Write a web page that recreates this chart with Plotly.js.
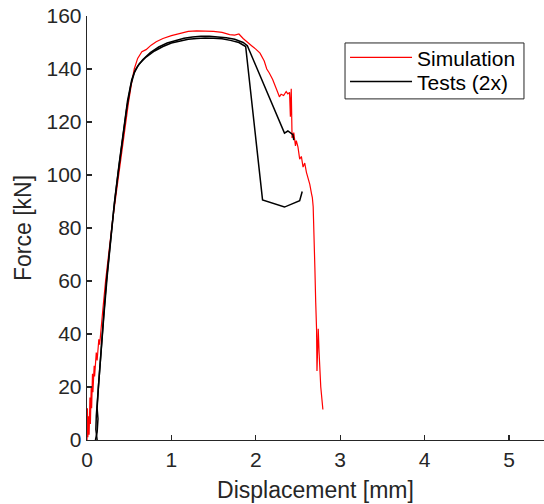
<!DOCTYPE html>
<html>
<head>
<meta charset="utf-8">
<script src="https://cdn.plot.ly/plotly-3.0.1.min.js"></script>
<style>html,body{margin:0;padding:0;background:#fff;overflow:hidden}#chart{width:544px;height:504px}</style>
</head>
<body>
<div id="chart"></div>
<script>
// Simulation (red)
const simX = [0,0.005,0.01,0.02,0.025,0.035,0.04,0.05,0.055,0.065,0.07,0.085,0.09,0.11,0.12,0.14,0.15,0.17,0.19,0.22,0.26,0.3,0.35,0.39,0.44,0.49,0.53,0.56,0.6,0.65,0.7,0.76,0.82,0.9,1.0,1.1,1.2,1.3,1.4,1.5,1.6,1.69,1.75,1.8,1.85,1.9,1.95,2.0,2.05,2.1,2.13,2.16,2.2,2.25,2.28,2.3,2.33,2.36,2.38,2.4,2.41,2.42,2.43,2.45,2.47,2.48,2.5,2.52,2.54,2.56,2.58,2.6,2.62,2.64,2.66,2.67,2.68,2.69,2.70,2.71,2.72,2.725,2.735,2.74,2.75,2.77,2.795];
const simY = [0,12,1,9,2,16,6,20,12,25,18,28,24,33,30,38,36,44,50,60,72,82,94,104,116,127,135,140,144,146.5,147.3,149,150.3,151.5,152.6,153.5,154.2,154.4,154.3,154.2,153.8,153,152.8,153.2,151.5,150,148.8,147.5,146,143,140,138.5,136,132,129.5,130.5,130,131.5,130.6,131.2,122,132.5,114,116,111,113,110.5,106,107,103,104.5,101,99,96.5,93,91.5,88,80,65,52,42,26,40,42,33,20,11.5];
// Test 1 (black)
const test1X = [0.12,0.105,0.11,0.125,0.14,0.17,0.2,0.23,0.27,0.3,0.33,0.38,0.43,0.48,0.53,0.57,0.62,0.7,0.8,0.9,1.0,1.1,1.2,1.3,1.4,1.5,1.6,1.7,1.8,1.88,2.08,2.34,2.52,2.55];
const test1Y = [0,4,9,16,24,36,48,60,73,82,91,104,117,128,136,139.5,142,144.5,146.8,148.5,149.8,150.5,151.2,151.5,151.7,151.6,151.4,150.8,150,148.5,90.6,87.9,90.3,93.8];
// Test 2 (black)
const test2X = [0.1,0.12,0.13,0.12,0.135,0.16,0.2,0.24,0.28,0.32,0.37,0.42,0.47,0.52,0.56,0.6,0.66,0.75,0.85,0.95,1.05,1.15,1.25,1.35,1.45,1.55,1.65,1.75,1.85,1.9,2.34,2.38,2.44,2.45];
const test2Y = [0,3,8,12,20,32,47,62,76,88,101,114,125,134,138.5,141,143.5,146.2,148.3,149.8,150.8,151.6,152.1,152.4,152.4,152.2,151.8,151.2,150,148.8,115.8,116.6,115.2,113.2];

const xTicks = [0,1,2,3,4,5];
const yTicks = [0,20,40,60,80,100,120,140,160];
const seriesNames = ["Simulation","Tests (2x)"];

const axisColor = '#262626';
const fontFam = 'Arial, "Liberation Sans", Helvetica, sans-serif';

const traces = [
  {x: simX, y: simY, type:'scatter', mode:'lines', name: seriesNames[0], legend:'legend', line:{color:'#ff0000', width:1.2}},
  {x: test1X, y: test1Y, type:'scatter', mode:'lines', name: seriesNames[1], legend:'legend2', line:{color:'#000000', width:1.5}},
  {x: test2X, y: test2Y, type:'scatter', mode:'lines', name: seriesNames[1], legend:'legend2', showlegend:false, line:{color:'#000000', width:1.5}}
];

const legendCommon = {
  xanchor:'left', yanchor:'middle',
  bgcolor:'rgba(0,0,0,0)', borderwidth:0,
  font:{size:21, color:'#000'}, itemwidth:62
};

const layout = {
  width:544, height:504,
  margin:{l:87, r:0, t:16, b:63.5, pad:0},
  paper_bgcolor:'#fff', plot_bgcolor:'#fff',
  font:{family:fontFam, color:axisColor, size:21},
  showlegend:true,
  xaxis:{
    range:[0,5.415], tickvals:xTicks, ticktext:xTicks.map(String),
    showgrid:false, zeroline:false, showline:true, linecolor:axisColor, linewidth:1.3,
    ticks:'inside', ticklen:5, tickcolor:axisColor, tickwidth:1.3,
    tickfont:{size:21, color:axisColor},
    title:{text:'Displacement [mm]', font:{size:23, color:axisColor}, standoff:12}
  },
  yaxis:{
    range:[0,160], tickvals:yTicks, ticktext:yTicks.map(String),
    showgrid:false, zeroline:false, showline:true, linecolor:axisColor, linewidth:1.3,
    ticks:'inside', ticklen:5, tickcolor:axisColor, tickwidth:1.3,
    tickfont:{size:21, color:axisColor},
    title:{text:'Force [kN]', font:{size:23, color:axisColor}, standoff:8}
  },
  legend: Object.assign({x:0.5646, y:0.9015}, legendCommon),
  legend2: Object.assign({x:0.5646, y:0.8445}, legendCommon),
  shapes:[{
    type:'rect', xref:'paper', yref:'paper', layer:'below',
    x0:0.5646, x1:0.9562, y0:0.8045, y1:0.9364,
    line:{color:axisColor, width:1}, fillcolor:'#fff'
  }]
};

Plotly.newPlot('chart', traces, layout, {displayModeBar:false, staticPlot:true});
</script>
</body>
</html>
